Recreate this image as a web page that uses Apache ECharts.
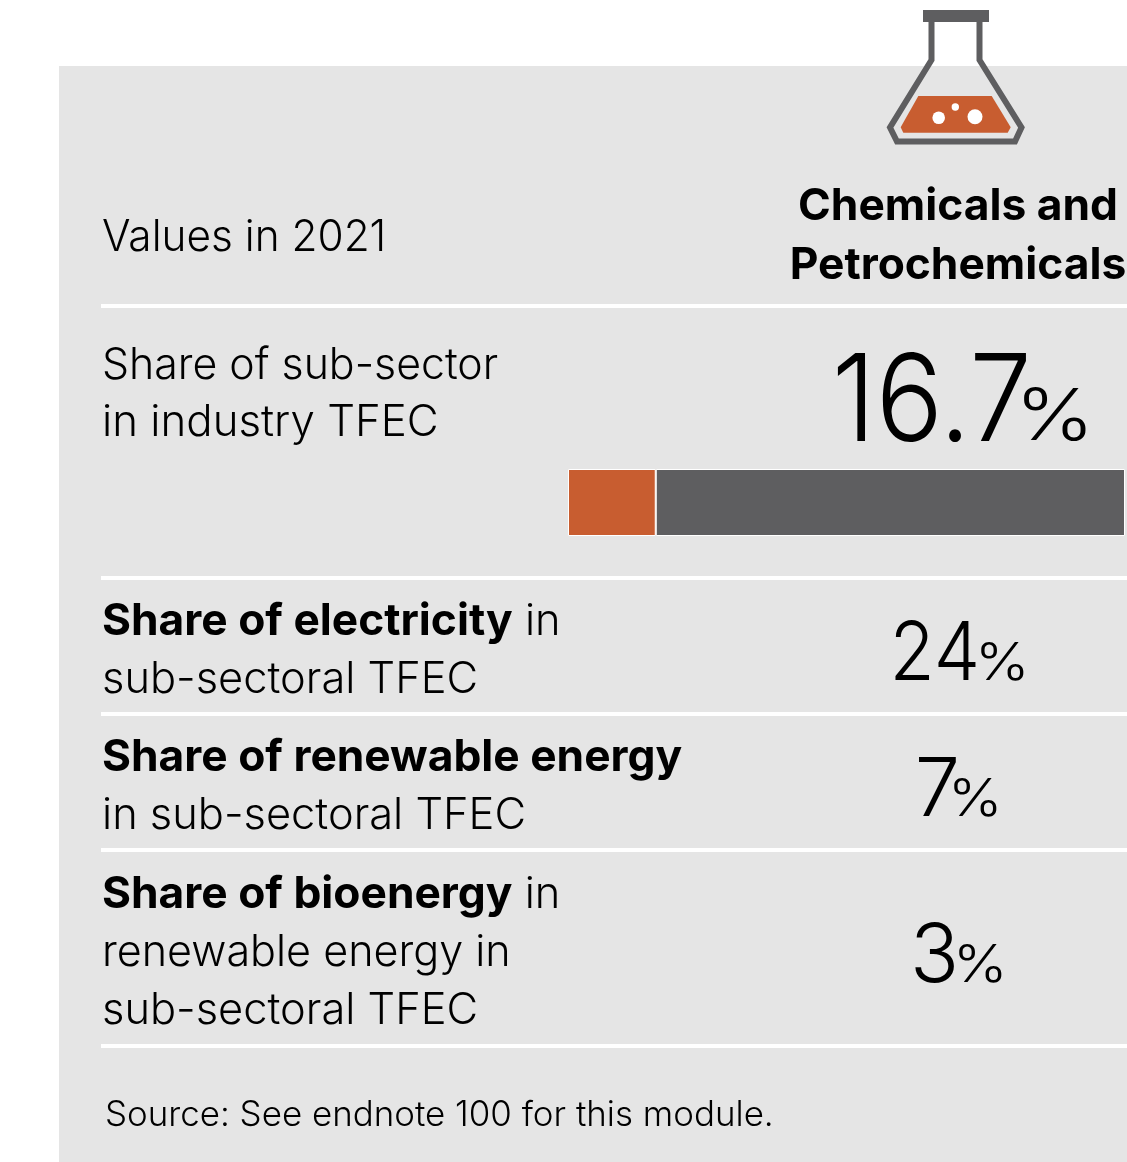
<!DOCTYPE html>
<html>
<head>
<meta charset="utf-8">
<style>html,body{margin:0;padding:0;background:#fff}#chart{width:1127px;height:1162px}</style>
<script src="https://cdn.jsdelivr.net/npm/echarts@6/dist/echarts.min.js"></script>
</head>
<body>
<div id="chart"></div>
<script>
// Sub-sector share of industry energy use, with the remainder of the bar
const shareLabel = '16.7';
const subSectorShare = [16.7];
const restOfIndustry = [89.3];
const barCategory = ['Chemicals and Petrochemicals'];

// Table rows: label pieces and values
const headerNote = 'Values in 2021';
const sectorTitle = ['Chemicals and', 'Petrochemicals'];
const shareRowLabel = ['Share of sub-sector', 'in industry TFEC'];
const electricityValue = '24';
const renewableValue = '7';
const bioenergyValue = '3';
const sourceNote = 'Source: See endnote 100 for this module.';

const ORANGE = '#c85d30';
const GREY = '#5e5e60';
const PANEL = '#e5e5e5';
const FONT = 'Inter';
const INK = '#000000';
const SIZE = 43.4;
const BOLD_SIZE = 44.3;
// Distance from the middle of a line of text down to its baseline, per unit of font size
const BASELINE_DROP = 0.288;

function text(x, y, str, size, weight, align, scaleX) {
  return {
    type: 'text', x, y, z: 5, scaleX: scaleX || 1,
    style: { text: str, fontFamily: FONT, fontSize: size, fontWeight: weight || 300,
             fill: INK, align: align || 'left', verticalAlign: 'middle' }
  };
}
function richText(x, y, str) {
  return {
    type: 'text', x, y, z: 5,
    style: { text: str, fontFamily: FONT, fontSize: SIZE, fontWeight: 300, fill: INK,
             verticalAlign: 'middle',
             rich: { b: { fontFamily: FONT, fontSize: BOLD_SIZE, fontWeight: 700, fill: INK },
                     n: { fontFamily: FONT, fontSize: SIZE, fontWeight: 300, fill: INK } } }
  };
}
// A value and its percent sign share one baseline
function valueText(numX, pctX, baseline, num, numSize, numScale, pctSize, pctScale) {
  return [
    { type: 'text', x: numX, y: baseline - BASELINE_DROP * numSize, z: 5, scaleX: numScale,
      style: { text: num, fontFamily: FONT, fontSize: numSize, fontWeight: 350, fill: INK,
               align: 'right', verticalAlign: 'middle' } },
    { type: 'text', x: pctX, y: baseline - BASELINE_DROP * pctSize, z: 6, scaleX: pctScale,
      style: { text: '%', fontFamily: FONT, fontSize: pctSize, fontWeight: 300, fill: INK,
               align: 'left', verticalAlign: 'middle' } }
  ];
}
function rule(y) {
  return { type: 'rect', z: 2, shape: { x: 101, y: y - 2, width: 1026, height: 4 }, style: { fill: '#ffffff' } };
}

// Conical flask pictogram
const flask = [
  { type: 'polyline', z: 3, shape: { points: [[931.5, 20], [931.5, 60], [890, 127.5], [897, 141.5], [1015, 141.5], [1021.5, 127.5], [979.5, 60], [979.5, 20]] },
    style: { stroke: GREY, lineWidth: 6, fill: null, lineJoin: 'miter' } },
  { type: 'rect', z: 4, shape: { x: 923, y: 10, width: 66, height: 12 }, style: { fill: GREY } },
  { type: 'polygon', z: 4, shape: { points: [[918.3, 96], [991.7, 96], [1010.7, 127.3], [1007.7, 132.7], [903.3, 132.7], [900.7, 127.3]] },
    style: { fill: ORANGE } },
  { type: 'circle', z: 5, shape: { cx: 938.7, cy: 117.7, r: 6.3 }, style: { fill: '#fff' } },
  { type: 'circle', z: 5, shape: { cx: 975, cy: 116.7, r: 7.5 }, style: { fill: '#fff' } },
  { type: 'circle', z: 5, shape: { cx: 955.3, cy: 107, r: 3.7 }, style: { fill: '#fff' } }
];

const chart = echarts.init(document.getElementById('chart'), null, { renderer: 'canvas' });
chart.setOption({
  animation: false,
  backgroundColor: '#ffffff',
  grid: { left: 568, top: 469, width: 557, height: 67, containLabel: false },
  xAxis: { type: 'value', min: 0, max: 106, show: false },
  yAxis: { type: 'category', data: barCategory, show: false },
  series: [
    { type: 'bar', stack: 'total', data: subSectorShare, barWidth: '100%',
      itemStyle: { color: ORANGE, borderColor: '#ffffff', borderWidth: 1 }, silent: true },
    { type: 'bar', stack: 'total', data: restOfIndustry, barWidth: '100%',
      itemStyle: { color: GREY, borderColor: '#ffffff', borderWidth: 1 }, silent: true }
  ],
  graphic: { elements: [
    { type: 'rect', z: -1, silent: true, shape: { x: 59, y: 66, width: 1068, height: 1096 }, style: { fill: PANEL } },
    rule(306), rule(578), rule(714), rule(850), rule(1046),
    ...flask,
    text(102, 238, headerNote, SIZE, 300, 'left', 0.976),
    text(958, 207, sectorTitle[0], BOLD_SIZE, 700, 'center'),
    text(958, 266, sectorTitle[1], BOLD_SIZE, 700, 'center'),
    text(102, 366, shareRowLabel[0], SIZE, 300, 'left', 0.987),
    text(102, 423, shareRowLabel[1], SIZE, 300, 'left', 1.009),
    ...valueText(1032, 1015, 439, shareLabel, 121, 0.925, 72, 1.18),
    richText(102, 622, '{b|Share of electricity} {n|in}'),
    text(102, 680, 'sub-sectoral TFEC', SIZE),
    ...valueText(980, 975, 679, electricityValue, 81, 0.91, 52, 1.12),
    richText(102, 758, '{b|Share of renewable energy}'),
    text(102, 816, 'in sub-sectoral TFEC', SIZE),
    ...valueText(960, 948, 815, renewableValue, 81, 1, 52, 1.12),
    richText(102, 895, '{b|Share of bioenergy} {n|in}'),
    text(102, 953, 'renewable energy in', SIZE, 300, 'left', 0.993),
    text(102, 1011, 'sub-sectoral TFEC', SIZE),
    ...valueText(959, 953, 981, bioenergyValue, 81, 1, 52, 1.12),
    { type: 'text', x: 105, y: 1116, z: 5, style: { text: sourceNote, fontFamily: FONT, fontSize: 34.9, fontWeight: 300, fill: INK, verticalAlign: 'middle' } }
  ] }
});
</script>
</body>
</html>
